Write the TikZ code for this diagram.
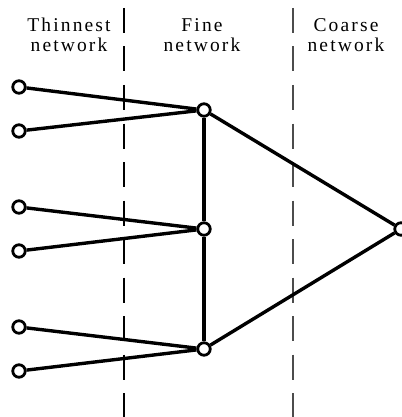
\documentclass[tikz,border=0pt]{standalone}
\usepackage{fontspec}
\newfontfamily\titlefont[LetterSpace=11]{Liberation Serif}
\begin{document}
\begin{tikzpicture}[x=1pt,y=-1pt,
  vertex/.style={circle,draw,fill=white,line width=2.8pt,minimum size=12.5pt,inner sep=0pt},
  link/.style={line width=3.4pt},
  divider/.style={line width=1.1pt,dash pattern=on 25pt off 13.5pt},
  heading/.style={font=\titlefont\fontsize{19.5}{20.5}\selectfont,align=center,anchor=base,inner sep=0pt}]
\useasboundingbox (0,0) rectangle (401,417);
% column separators
\coordinate (d1t) at (124,8);
\coordinate (d1b) at (124,417);
\coordinate (d2t) at (293,8);
\coordinate (d2b) at (293,417);
\draw[divider] (d1t) -- (d1b);
\draw[divider,draw=black!70] (d2t) -- (d2b);
% column headings (anchored at the baseline of the second line)
\node[heading] (h1) at (69,52) {Thinnest\\network};
\node[heading] (h2) at (202,52) {Fine\\network};
\node[heading] (h3) at (346,52) {Coarse\\network};
% vertices
\node[vertex] (a1) at (19,87) {};
\node[vertex] (a2) at (19,131) {};
\node[vertex] (a3) at (19,207) {};
\node[vertex] (a4) at (19,251) {};
\node[vertex] (a5) at (19,327) {};
\node[vertex] (a6) at (19,371) {};
\node[vertex] (b1) at (204,110) {};
\node[vertex] (b2) at (204,229) {};
\node[vertex] (b3) at (204,349) {};
\node[vertex] (c1) at (401,229) {};
% connections
\draw[link] (a1) -- (b1);
\draw[link] (a2) -- (b1);
\draw[link] (a3) -- (b2);
\draw[link] (a4) -- (b2);
\draw[link] (a5) -- (b3);
\draw[link] (a6) -- (b3);
\draw[link] (b1) -- (b2);
\draw[link] (b2) -- (b3);
\draw[link] (b1) -- (c1);
\draw[link] (b3) -- (c1);
\end{tikzpicture}
\end{document}
